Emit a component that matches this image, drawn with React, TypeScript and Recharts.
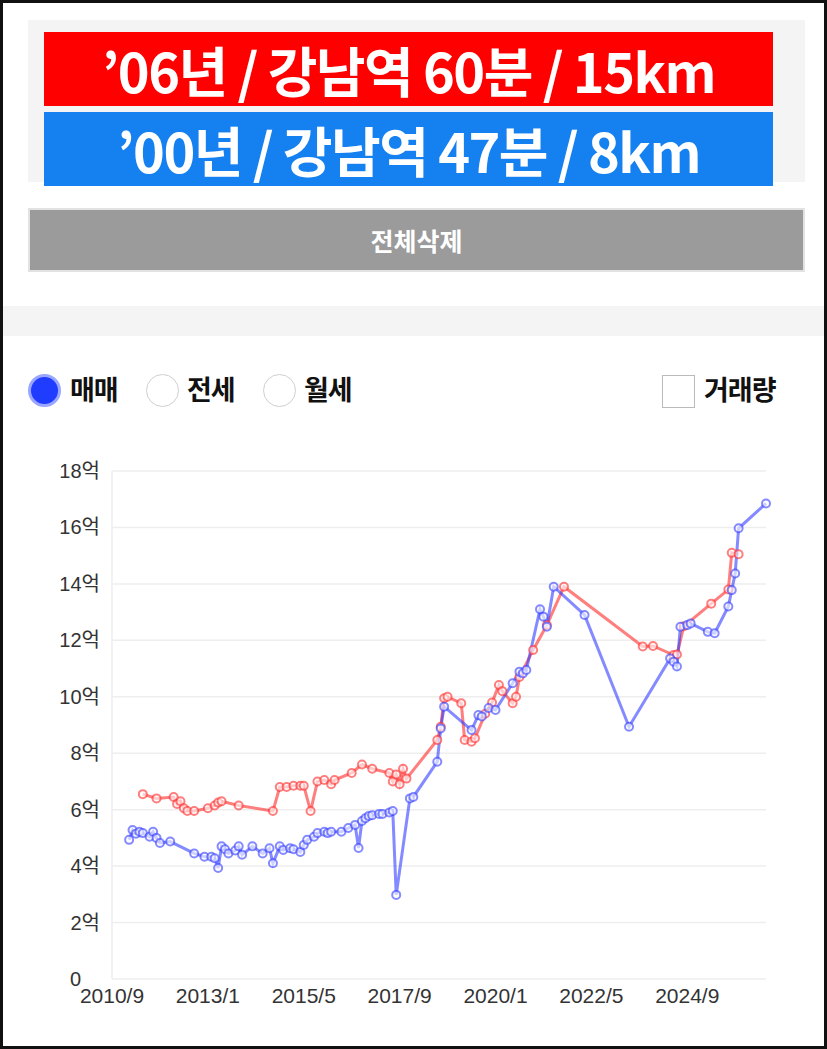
import React from "react";
import { LineChart, Line, XAxis, YAxis, CartesianGrid } from "recharts";

// '06년 단지 (빨강)
const redDates = [
  "2011/6", "2011/10", "2012/3", "2012/4", "2012/5", "2012/6", "2012/7", "2012/9",
  "2013/1", "2013/3", "2013/4", "2013/5", "2013/10", "2014/8", "2014/10", "2014/12",
  "2015/2", "2015/4", "2015/5", "2015/7", "2015/9", "2015/11", "2016/1", "2016/2",
  "2016/7", "2016/10", "2017/1", "2017/6", "2017/7", "2017/8", "2017/9", "2017/10",
  "2017/11", "2018/8", "2018/9", "2018/10", "2018/11", "2019/3", "2019/4", "2019/6",
  "2019/7", "2019/10", "2019/12", "2020/2", "2020/3", "2020/6", "2020/7", "2020/8",
  "2020/12", "2021/4", "2021/9", "2023/8", "2023/11", "2024/5", "2024/6", "2024/8",
  "2025/4", "2025/9", "2025/10", "2025/12",
];
const redPrices = [
  6.55, 6.4, 6.45, 6.2, 6.3, 6.05, 5.95, 5.95,
  6.05, 6.15, 6.25, 6.3, 6.15, 5.95, 6.8, 6.8,
  6.85, 6.85, 6.85, 5.95, 7.0, 7.05, 6.9, 7.05,
  7.3, 7.6, 7.45, 7.3, 7.0, 7.25, 6.9, 7.45,
  7.1, 8.47, 8.94, 9.95, 10.0, 9.77, 8.47, 8.41,
  8.53, 9.4, 9.8, 10.42, 10.2, 9.77, 10.0, 10.7,
  11.66, 12.54, 13.9, 11.78, 11.8, 11.48, 11.5, 12.5,
  13.3, 13.8, 15.1, 15.05,
];

// '00년 단지 (파랑)
const blueDates = [
  "2011/2", "2011/3", "2011/4", "2011/5", "2011/6", "2011/8", "2011/9", "2011/10",
  "2011/11", "2012/2", "2012/9", "2012/12", "2013/2", "2013/3", "2013/4", "2013/5",
  "2013/6", "2013/7", "2013/9", "2013/10", "2013/11", "2014/2", "2014/5", "2014/7",
  "2014/8", "2014/10", "2014/11", "2015/1", "2015/2", "2015/4", "2015/5", "2015/6",
  "2015/8", "2015/9", "2015/11", "2015/12", "2016/1", "2016/4", "2016/6", "2016/8",
  "2016/9", "2016/10", "2016/11", "2016/12", "2017/1", "2017/3", "2017/4", "2017/6",
  "2017/7", "2017/8", "2017/12", "2018/1", "2018/8", "2018/9", "2018/10", "2019/6",
  "2019/8", "2019/9", "2019/11", "2020/1", "2020/6", "2020/8", "2020/9", "2020/10",
  "2021/2", "2021/3", "2021/4", "2021/6", "2022/3", "2023/4", "2024/4", "2024/5",
  "2024/6", "2024/7", "2024/9", "2024/10", "2025/3", "2025/5", "2025/9", "2025/10",
  "2025/11", "2025/12", "2026/8",
];
const bluePrices = [
  4.93, 5.28, 5.15, 5.22, 5.17, 5.04, 5.22, 5.0,
  4.82, 4.87, 4.45, 4.33, 4.33, 4.28, 3.93, 4.7,
  4.6, 4.45, 4.55, 4.7, 4.4, 4.7, 4.45, 4.63,
  4.1, 4.7, 4.57, 4.63, 4.6, 4.5, 4.75, 4.93,
  5.04, 5.17, 5.22, 5.17, 5.22, 5.22, 5.35, 5.46,
  4.64, 5.6, 5.7, 5.78, 5.8, 5.85, 5.85, 5.9,
  5.95, 2.98, 6.4, 6.45, 7.7, 8.88, 9.65, 8.82,
  9.35, 9.3, 9.6, 9.53, 10.48, 10.89, 10.83, 10.95,
  13.1, 12.84, 12.48, 13.9, 12.9, 8.94, 11.36, 11.24,
  11.07, 12.48, 12.54, 12.6, 12.3, 12.25, 13.2, 13.78,
  14.37, 15.97, 16.85,
];

const xTickLabels = ["2010/9", "2013/1", "2015/5", "2017/9", "2020/1", "2022/5", "2024/9"];
const yTicks = [0, 2, 4, 6, 8, 10, 12, 14, 16, 18];

// 2010/9 = 0 기준 월 인덱스
const toIdx = (s: string) => {
  const [y, m] = s.split("/").map(Number);
  return (y - 2010) * 12 + (m - 9);
};
const fromIdx = (i: number) => {
  const total = 2010 * 12 + 8 + i;
  return `${Math.floor(total / 12)}/${(total % 12) + 1}`;
};

const redData = redDates.map((d, i) => ({ t: toIdx(d), price: redPrices[i] }));
const blueData = blueDates.map((d, i) => ({ t: toIdx(d), price: bluePrices[i] }));

const RED = "rgba(255, 40, 40, 0.6)";
const BLUE = "rgba(50, 60, 255, 0.6)";

const YTick = (props: any) => {
  const { y, payload } = props;
  const v = payload.value;
  return (
    <text
      x={v === 0 ? 70 : 100}
      y={y}
      dy={7}
      textAnchor={v === 0 ? "start" : "end"}
      fontSize={20}
      fill="#333"
      fontFamily="'Liberation Sans', 'Noto Sans CJK KR', sans-serif"
    >
      {v === 0 ? "0" : `${v}억`}
    </text>
  );
};

const XTick = (props: any) => {
  const { x, y, payload } = props;
  return (
    <text
      x={x}
      y={y}
      dy={16}
      textAnchor="middle"
      fontSize={21}
      fill="#333"
      fontFamily="'Liberation Sans', sans-serif"
    >
      {fromIdx(payload.value)}
    </text>
  );
};

const abs = (left: number, top: number, width: number, height: number): React.CSSProperties => ({
  position: "absolute",
  left,
  top,
  width,
  height,
  boxSizing: "border-box",
});

const bannerText: React.CSSProperties = {
  color: "#fff",
  fontSize: 54,
  fontWeight: 700,
  display: "flex",
  alignItems: "center",
  justifyContent: "center",
  letterSpacing: -1.5,
};

const optLabel: React.CSSProperties = {
  position: "absolute",
  top: 371,
  fontSize: 27,
  fontWeight: 700,
  color: "#111",
  lineHeight: "36px",
  letterSpacing: -1,
};

export default function App() {
  return (
    <div
      style={{
        position: "absolute",
        left: 0,
        top: 0,
        width: 827,
        height: 1049,
        background: "#fff",
        overflow: "hidden",
        fontFamily: "'Noto Sans CJK KR', sans-serif",
      }}
    >
      <div style={{ ...abs(28, 20, 777, 162), background: "#f4f4f4" }} />
      <div style={{ ...abs(44, 32, 729, 74), background: "#ff0000", ...bannerText }}>
        ’06년 / 강남역 60분 / 15km
      </div>
      <div style={{ ...abs(44, 112, 729, 74), background: "#1580f0", ...bannerText }}>
        ’00년 / 강남역 47분 / 8km
      </div>
      <div
        style={{
          ...abs(28, 208, 777, 64),
          background: "#9b9b9b",
          border: "2px solid #e2e2e2",
          color: "#fff",
          fontSize: 25,
          fontWeight: 700,
          display: "flex",
          alignItems: "center",
          justifyContent: "center",
        }}
      >
        전체삭제
      </div>
      <div style={{ ...abs(0, 306, 827, 30), background: "#f4f4f4" }} />

      {/* 매매 / 전세 / 월세, 거래량 */}
      <div
        style={{
          ...abs(28, 374, 33, 33),
          borderRadius: "50%",
          background: "#1f3cff",
          border: "3px solid #9aa6ff",
        }}
      />
      <div style={{ ...optLabel, left: 70 }}>매매</div>
      <div style={{ ...abs(146, 374, 33, 33), borderRadius: "50%", border: "1.5px solid #cfcfcf" }} />
      <div style={{ ...optLabel, left: 187 }}>전세</div>
      <div style={{ ...abs(263, 374, 33, 33), borderRadius: "50%", border: "1.5px solid #cfcfcf" }} />
      <div style={{ ...optLabel, left: 304 }}>월세</div>
      <div style={{ ...abs(662, 375, 33, 33), border: "1.5px solid #bbb" }} />
      <div style={{ ...optLabel, left: 704 }}>거래량</div>

      <div style={{ position: "absolute", left: 0, top: 440 }}>
        <LineChart width={827} height={580} margin={{ top: 31, right: 61, bottom: 11, left: 0 }}>
          <CartesianGrid vertical={false} stroke="#eeeeee" strokeWidth={1.5} />
          <XAxis
            type="number"
            dataKey="t"
            domain={[0, 191]}
            ticks={xTickLabels.map(toIdx)}
            axisLine={false}
            tickLine={false}
            height={30}
            tick={<XTick />}
            interval={0}
          />
          <YAxis
            type="number"
            domain={[0, 18]}
            ticks={yTicks}
            width={112}
            axisLine={{ stroke: "#eeeeee", strokeWidth: 1.5 }}
            tickLine={false}
            tick={<YTick />}
            interval={0}
          />
          <Line
            data={redData}
            dataKey="price"
            type="linear"
            stroke={RED}
            strokeWidth={3}
            dot={{ r: 4, stroke: RED, strokeWidth: 2, fill: "#fff", fillOpacity: 0.6 }}
            isAnimationActive={false}
          />
          <Line
            data={blueData}
            dataKey="price"
            type="linear"
            stroke={BLUE}
            strokeWidth={3}
            dot={{ r: 4, stroke: BLUE, strokeWidth: 2, fill: "#fff", fillOpacity: 0.6 }}
            isAnimationActive={false}
          />
        </LineChart>
      </div>

      <div style={{ ...abs(0, 0, 827, 1049), border: "3px solid #111", pointerEvents: "none" }} />
    </div>
  );
}
